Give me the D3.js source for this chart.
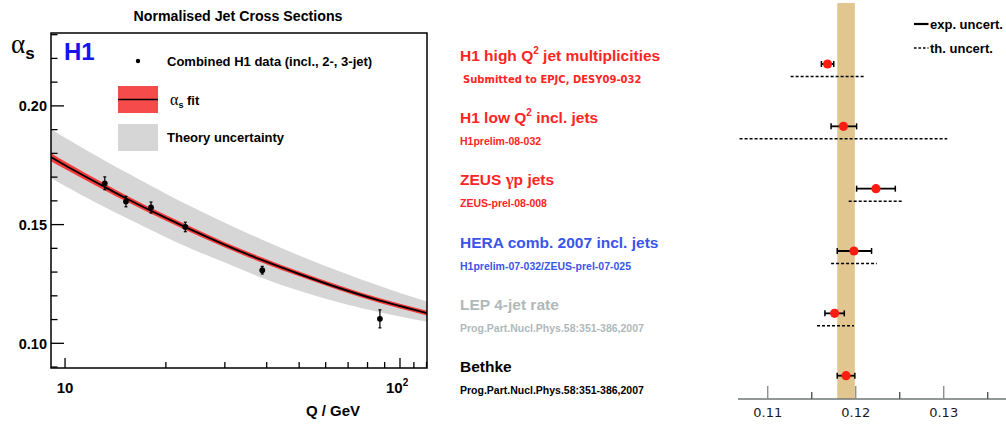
<!DOCTYPE html>
<html><head><meta charset="utf-8">
<script src="https://cdn.jsdelivr.net/npm/d3@7"></script>
<style>body{margin:0;background:#fff}svg{display:block}</style>
</head><body>
<script>
// ---------- Left panel data ----------
const dataQ = [13.14, 15.2, 18.06, 22.86, 38.8, 87.1];
const dataAlpha = [0.1674, 0.1597, 0.1572, 0.1490, 0.1308, 0.1103];
const dataErr = [0.0027, 0.0022, 0.0023, 0.0020, 0.0016, 0.0038];

const fitQ = [9.08, 10, 13.2, 15.2, 20, 22.8, 30, 38.8, 50, 66.2, 87.1, 100, 120.4];
const fitAlpha = [0.1784, 0.1750, 0.1657, 0.1611, 0.1528, 0.1490, 0.1415, 0.1350, 0.1292, 0.1232, 0.1180, 0.1157, 0.1127];
const fitErr = [0.0017, 0.0016, 0.0014, 0.0013, 0.0012, 0.0012, 0.0011, 0.0011, 0.0010, 0.0010, 0.0010, 0.0010, 0.0010];
const thUpper = [0.1902, 0.1866, 0.1768, 0.1720, 0.1630, 0.1589, 0.1508, 0.1436, 0.1370, 0.1302, 0.1241, 0.1212, 0.1176];
const thLower = [0.1696, 0.1663, 0.1572, 0.1529, 0.1447, 0.1410, 0.1340, 0.1275, 0.1221, 0.1171, 0.1131, 0.1113, 0.1091];

const yTickLabels = ["0.10", "0.15", "0.20"];
const yTicks = [0.10, 0.15, 0.20];
const xTickLabels = ["10", "10²"];
const xTicks = [10, 100];

// ---------- Right panel data ----------
const measurements = ["H1 high Q² jet multiplicities", "H1 low Q² incl. jets", "ZEUS γp jets",
  "HERA comb. 2007 incl. jets", "LEP 4-jet rate", "Bethke"];
const references = ["Submitted to EPJC, DESY09-032", "H1prelim-08-032", "ZEUS-prel-08-008",
  "H1prelim-07-032/ZEUS-prel-07-025", "Prog.Part.Nucl.Phys.58:351-386,2007", "Prog.Part.Nucl.Phys.58:351-386,2007"];
const alphaValues = [0.1168, 0.1186, 0.1223, 0.1198, 0.1176, 0.1189];
const expLow = [0.0007, 0.0014, 0.0022, 0.0019, 0.0011, 0.0010];
const expHigh = [0.0007, 0.0015, 0.0022, 0.0020, 0.0011, 0.0010];
const thLow = [0.0042, 0.0118, 0.0031, 0.0026, 0.0020, null];
const thHigh = [0.0041, 0.0118, 0.0030, 0.0026, 0.0022, null];
const worldAverage = 0.1189, worldAverageErr = 0.0010;
const rTicks = [0.11, 0.12, 0.13];
const rTickLabels = ["0.11", "0.12", "0.13"];
const rMinorTicks = [0.115, 0.125, 0.135];

const colors = ["#ff2424", "#ff2424", "#ff2424", "#3a55ea", "#b0b9b9", "#000000"];

const W = 1006, H = 424;
const svg = d3.select("body").append("svg").attr("width", W).attr("height", H);
const SANS = "'Liberation Sans', Arial, Helvetica, sans-serif";

// ================= LEFT PANEL =================
const L = {x0: 51, x1: 427, y0: 33, y1: 368};
const x = d3.scaleLog().domain([9.08, 120.4]).range([L.x0, L.x1]);
const y = d3.scaleLinear().domain([0.0896, 0.2307]).range([L.y1, L.y0]);

svg.append("clipPath").attr("id", "clipL").append("rect")
  .attr("x", L.x0).attr("y", L.y0).attr("width", L.x1 - L.x0).attr("height", L.y1 - L.y0);
const gL = svg.append("g").attr("clip-path", "url(#clipL)");

const idx = d3.range(fitQ.length);
gL.append("path")
  .attr("d", d3.area().curve(d3.curveMonotoneX).x(i => x(fitQ[i])).y0(i => y(thLower[i])).y1(i => y(thUpper[i]))(idx))
  .attr("fill", "#d6d6d6");
gL.append("path")
  .attr("d", d3.area().curve(d3.curveMonotoneX).x(i => x(fitQ[i])).y0(i => y(fitAlpha[i] - fitErr[i])).y1(i => y(fitAlpha[i] + fitErr[i]))(idx))
  .attr("fill", "#f53b3b");
gL.append("path")
  .attr("d", d3.line().curve(d3.curveMonotoneX).x(i => x(fitQ[i])).y(i => y(fitAlpha[i]))(idx))
  .attr("fill", "none").attr("stroke", "#000").attr("stroke-width", 1.9);

// data points
const pts = svg.append("g");
dataQ.forEach((q, i) => {
  const cx = x(q);
  pts.append("line").attr("x1", cx).attr("x2", cx)
    .attr("y1", y(dataAlpha[i] - dataErr[i])).attr("y2", y(dataAlpha[i] + dataErr[i]))
    .attr("stroke", "#000").attr("stroke-width", 1.2);
  [dataAlpha[i] - dataErr[i], dataAlpha[i] + dataErr[i]].forEach(v => {
    pts.append("line").attr("x1", cx - 1.5).attr("x2", cx + 1.5).attr("y1", y(v)).attr("y2", y(v))
      .attr("stroke", "#000").attr("stroke-width", 1.2);
  });
  pts.append("circle").attr("cx", cx).attr("cy", y(dataAlpha[i])).attr("r", 2.9).attr("fill", "#000");
});

// frame
svg.append("rect").attr("x", L.x0).attr("y", L.y0).attr("width", L.x1 - L.x0).attr("height", L.y1 - L.y0)
  .attr("fill", "none").attr("stroke", "#000").attr("stroke-width", 1.5);

// y ticks (inward)
const yMinor = d3.range(9, 24).map(v => v / 100).filter(v => v >= 0.0896 && v <= 0.2307);
yMinor.forEach(v => {
  const major = yTicks.some(t => Math.abs(t - v) < 1e-9);
  svg.append("line").attr("x1", L.x0).attr("x2", L.x0 + (major ? 13 : 6.5))
    .attr("y1", y(v)).attr("y2", y(v)).attr("stroke", "#000").attr("stroke-width", 1.3);
});
yTicks.forEach((v, i) => {
  svg.append("text").attr("x", 47).attr("y", y(v)).attr("dy", "0.36em").attr("text-anchor", "end")
    .attr("font-family", SANS).attr("font-weight", "bold").attr("font-size", 14.5).text(yTickLabels[i]);
});

// x ticks (inward)
const xMinor = [];
for (let d = 10; d <= 100; d *= 10) for (let k = 1; k < 10; k++) xMinor.push(d * k);
xMinor.push(110, 120);
xMinor.filter(v => v >= 9.08 && v <= 120.4).forEach(v => {
  const major = xTicks.includes(v);
  svg.append("line").attr("x1", x(v)).attr("x2", x(v)).attr("y1", L.y1).attr("y2", L.y1 - (major ? 10 : 6))
    .attr("stroke", "#000").attr("stroke-width", 1.3);
});
xTicks.forEach((v, i) => {
  const lab = xTickLabels[i];
  const t = svg.append("text").attr("y", 393).attr("font-family", SANS).attr("font-weight", "bold")
    .attr("font-size", 15);
  if (lab.includes("²")) {
    t.attr("x", x(v) - 14);
    t.append("tspan").text(lab.replace("²", ""));
    t.append("tspan").attr("font-size", 10).attr("dy", -7).text("2");
  } else {
    t.attr("x", x(v)).attr("text-anchor", "middle").text(lab);
  }
});
svg.append("text").attr("x", 333).attr("y", 416).attr("text-anchor", "middle")
  .attr("font-family", SANS).attr("font-weight", "bold").attr("font-size", 15).text("Q / GeV");

// title
svg.append("text").attr("x", 238).attr("y", 21).attr("text-anchor", "middle")
  .attr("font-family", SANS).attr("font-weight", "bold").attr("font-size", 14.2).text("Normalised Jet Cross Sections");

// alpha_s label
const al = svg.append("text").attr("x", 11).attr("y", 53);
al.append("tspan").attr("font-family", "'Liberation Serif', 'DejaVu Serif', serif").attr("font-size", 27).text("α");
al.append("tspan").attr("font-family", SANS).attr("font-weight", "bold").attr("font-size", 17).attr("dy", 6).text("s");

// H1 logo
svg.append("text").attr("x", 64).attr("y", 60).attr("font-family", SANS).attr("font-weight", "bold")
  .attr("font-size", 24).attr("fill", "#1414f0").text("H1");

// legend
svg.append("circle").attr("cx", 138).attr("cy", 61).attr("r", 2.2).attr("fill", "#000");
svg.append("text").attr("x", 167).attr("y", 61).attr("dy", "0.36em").attr("font-family", SANS)
  .attr("font-weight", "bold").attr("font-size", 13).text("Combined H1 data (incl., 2-, 3-jet)");
svg.append("rect").attr("x", 118).attr("y", 86).attr("width", 40).attr("height", 27).attr("fill", "#f54b4b");
svg.append("line").attr("x1", 118).attr("x2", 158).attr("y1", 99.5).attr("y2", 99.5).attr("stroke", "#000").attr("stroke-width", 1.3);
const lf = svg.append("text").attr("x", 170).attr("y", 105);
lf.append("tspan").attr("font-family", "'Liberation Serif', serif").attr("font-size", 16).text("α");
lf.append("tspan").attr("font-family", SANS).attr("font-weight", "bold").attr("font-size", 9).attr("dy", 3).text("s");
lf.append("tspan").attr("font-family", SANS).attr("font-weight", "bold").attr("font-size", 13).attr("dy", -3).text(" fit");
svg.append("rect").attr("x", 118).attr("y", 124).attr("width", 40).attr("height", 27).attr("fill", "#d6d6d6");
svg.append("text").attr("x", 167).attr("y", 137).attr("dy", "0.36em").attr("font-family", SANS)
  .attr("font-weight", "bold").attr("font-size", 13).text("Theory uncertainty");

// ================= RIGHT PANEL =================
const xr = d3.scaleLinear().domain([0.10662, 0.13708]).range([738, 1006]);
const yr = d3.scalePoint().domain(measurements).range([64, 375.7]);
const axisY = 399;

// world average band
svg.append("rect").attr("x", xr(worldAverage - worldAverageErr)).attr("y", 3)
  .attr("width", xr(worldAverage + worldAverageErr) - xr(worldAverage - worldAverageErr))
  .attr("height", axisY - 3).attr("fill", "#e2c690");

// axis
svg.append("line").attr("x1", 738).attr("x2", 1006).attr("y1", axisY).attr("y2", axisY)
  .attr("stroke", "#6e7676").attr("stroke-width", 1.6);
rTicks.forEach((v, i) => {
  svg.append("line").attr("x1", xr(v)).attr("x2", xr(v)).attr("y1", axisY).attr("y2", axisY - 13)
    .attr("stroke", "#8a8f8f").attr("stroke-width", 1.4);
  svg.append("text").attr("x", xr(v)).attr("y", 412).attr("dy", "0.36em").attr("text-anchor", "middle")
    .attr("font-family", "'DejaVu Sans', sans-serif").attr("font-size", 13).attr("fill", "#1a1a1a").text(rTickLabels[i]);
});
rMinorTicks.forEach(v => {
  svg.append("line").attr("x1", xr(v)).attr("x2", xr(v)).attr("y1", axisY).attr("y2", axisY - 7)
    .attr("stroke", "#555").attr("stroke-width", 1.4);
});

// measurement rows
measurements.forEach((m, i) => {
  const cy = yr(m);
  const v = alphaValues[i];
  if (thLow[i] != null) {
    svg.append("line").attr("x1", xr(v - thLow[i])).attr("x2", xr(v + thHigh[i]))
      .attr("y1", cy + 12.5).attr("y2", cy + 12.5)
      .attr("stroke", "#000").attr("stroke-width", 1.5).attr("stroke-dasharray", "3,2");
  }
  const a = xr(v - expLow[i]), b = xr(v + expHigh[i]);
  svg.append("line").attr("x1", a).attr("x2", b).attr("y1", cy).attr("y2", cy)
    .attr("stroke", "#000").attr("stroke-width", 1.8);
  [a, b].forEach(px => svg.append("line").attr("x1", px).attr("x2", px).attr("y1", cy - 3).attr("y2", cy + 3)
    .attr("stroke", "#000").attr("stroke-width", 1.5));
  svg.append("circle").attr("cx", xr(v)).attr("cy", cy).attr("r", 4.6).attr("fill", "#ff1a12");

  const t = svg.append("text").attr("x", 460).attr("y", cy - 9 + 5.6)
    .attr("font-family", SANS).attr("font-weight", "bold").attr("font-size", 15.5).attr("fill", colors[i]);
  const parts = m.split("²");
  parts.forEach((p, k) => {
    if (k > 0) t.append("tspan").attr("font-size", 10).attr("dy", -7).text("2");
    const holder = (k > 0) ? t.append("tspan").attr("dy", 7) : t;
    if (p.includes("γ")) {
      const [pre, post] = p.split("γ");
      holder.append("tspan").text(pre);
      holder.append("tspan").attr("font-family", "'Liberation Serif', serif").attr("font-size", 17).text("γ");
      holder.append("tspan").text(post);
    } else {
      holder.append("tspan").text(p);
    }
  });
  const isFirst = i === 0;
  svg.append("text").attr("x", isFirst ? 463 : 460).attr("y", cy + 15).attr("dy", "0.36em")
    .attr("font-family", isFirst ? "'DejaVu Sans', sans-serif" : SANS).attr("font-weight", "bold")
    .attr("font-size", isFirst ? 10 : 10.5).attr("fill", colors[i]).text(references[i]);
});

// right legend
svg.append("line").attr("x1", 914).attr("x2", 928.5).attr("y1", 24).attr("y2", 24).attr("stroke", "#000").attr("stroke-width", 2.2);
svg.append("text").attr("x", 930).attr("y", 24).attr("dy", "0.36em").attr("font-family", SANS)
  .attr("font-weight", "bold").attr("font-size", 13).text("exp. uncert.");
svg.append("line").attr("x1", 914).attr("x2", 928.5).attr("y1", 48).attr("y2", 48).attr("stroke", "#000")
  .attr("stroke-width", 1.4).attr("stroke-dasharray", "2.5,2");
svg.append("text").attr("x", 930).attr("y", 48).attr("dy", "0.36em").attr("font-family", SANS)
  .attr("font-weight", "bold").attr("font-size", 13).text("th. uncert.");
</script>
</body></html>
